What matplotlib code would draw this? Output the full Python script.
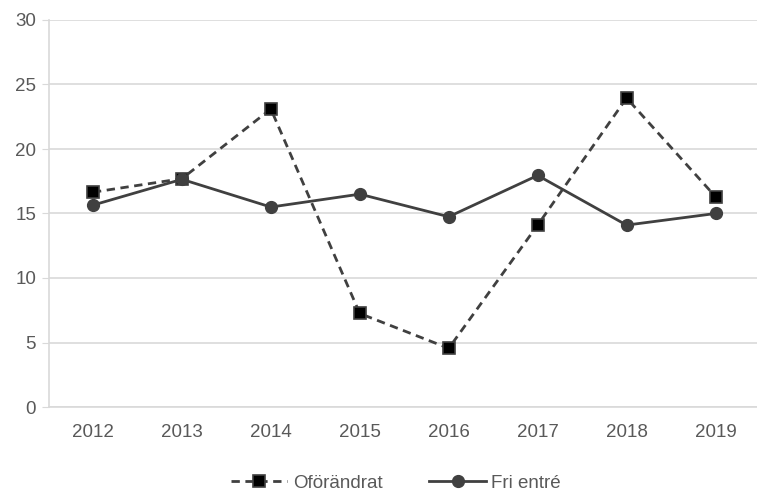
import matplotlib
matplotlib.use("Agg")
import matplotlib.pyplot as plt

years = ["2012", "2013", "2014", "2015", "2016", "2017", "2018", "2019"]
oforandrat = [16.65, 17.7, 23.1, 7.25, 4.55, 14.1, 23.95, 16.3]
fri_entre = [15.65, 17.65, 15.5, 16.5, 14.75, 17.95, 14.1, 15.0]
yticks = [0, 5, 10, 15, 20, 25, 30]

plt.rcParams['font.family'] = ['Liberation Sans', 'DejaVu Sans']

fig = plt.figure(figsize=(7.57, 4.94), dpi=100)
ax = fig.add_axes([48.5/757, 87/494, (760-48.5)/757, 387/494])

x = list(range(len(years)))
line_col = '#404040'
ax.plot(x, oforandrat, linestyle=(0, (3, 2)), color=line_col, linewidth=2,
        marker='s', markersize=9, markerfacecolor='black', markeredgecolor='#404040',
        markeredgewidth=1.2, label='Oförändrat', zorder=3)
ax.plot(x, fri_entre, linestyle='-', color=line_col, linewidth=2,
        marker='o', markersize=8.5, markerfacecolor=line_col, markeredgecolor=line_col,
        label='Fri entré', zorder=3)

ax.set_xlim(-0.5, len(years) - 0.5)
ax.set_ylim(0, 30)
ax.set_yticks(yticks)
ax.set_xticks(x)
ax.set_xticklabels(years)
ax.yaxis.grid(True, color='#d9d9d9', linewidth=1.2)
ax.set_axisbelow(True)
for s in ['top', 'right']:
    ax.spines[s].set_visible(False)
ax.spines['left'].set_color('#d9d9d9')
ax.spines['bottom'].set_color('#d9d9d9')
ax.spines['left'].set_linewidth(1.2)
ax.spines['bottom'].set_linewidth(1.2)
ax.tick_params(axis='y', length=5, color='#d9d9d9', labelcolor='#595959', labelsize=13.5, pad=4)
ax.tick_params(axis='x', length=0, labelcolor='#595959', labelsize=13.5, pad=12)

leg = fig.legend(loc='center', bbox_to_anchor=(396/757, 11/494), ncol=2, frameon=False,
                 fontsize=13.5, handlelength=3.0, columnspacing=2.5, handletextpad=0.3,
                 labelcolor='#595959')

fig.savefig('out.png', dpi=100, facecolor='white')
